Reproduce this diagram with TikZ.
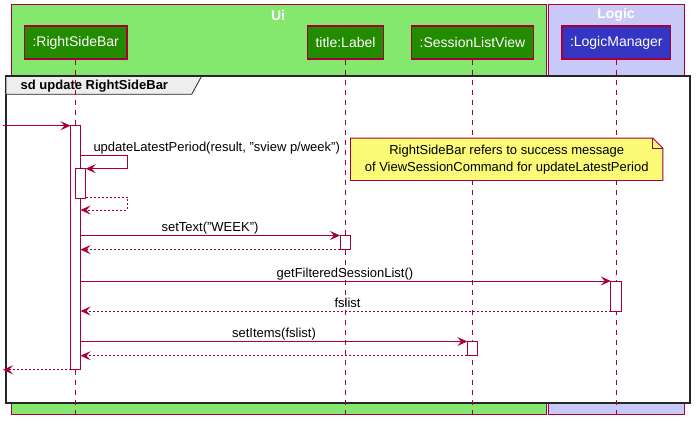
\documentclass[tikz,border=0pt]{standalone}
\usepackage{fontspec}
\setmainfont{Liberation Sans}
\usetikzlibrary{arrows.meta}
\definecolor{crim}{HTML}{A80036}
\definecolor{uibg}{HTML}{84E86E}
\definecolor{uipart}{HTML}{228B00}
\definecolor{logicbg}{HTML}{C9C9F8}
\definecolor{logicpart}{HTML}{3535C4}
\definecolor{notebg}{HTML}{FBFB77}
\definecolor{tabbg}{HTML}{EEEEEE}
\begin{document}
\begin{tikzpicture}[x=1pt,y=-1pt,
  grp/.style={draw=crim, line width=0.9pt},
  grptitle/.style={text=white, font=\fontsize{14}{16}\selectfont\bfseries, inner sep=0},
  part/.style={draw=crim, line width=1.3pt, text=white, font=\fontsize{14}{16}\selectfont, inner xsep=8pt, inner ysep=0pt, minimum height=33pt},
  life/.style={draw=crim, line width=0.9pt, dash pattern=on 5pt off 5pt},
  act/.style={draw=crim, fill=white, line width=0.9pt},
  call/.style={draw=crim, line width=0.9pt, -{Stealth[length=10pt,width=9pt,inset=4pt]}},
  ret/.style={draw=crim, line width=0.9pt, dash pattern=on 2pt off 2pt, -{Stealth[length=10pt,width=9pt,inset=4pt]}},
  msg/.style={font=\fontsize{13}{15}\selectfont, inner sep=0, anchor=base},
]
\useasboundingbox (0,0) rectangle (700,429);
\fill[white] (0,0) rectangle (700,429);

% group boxes
\draw[grp, fill=uibg] (11,4) rectangle (546,414);
\draw[grp, fill=logicbg] (548,4) rectangle (684,414);
\node[grptitle] (uit) at (278,15) {Ui};
\node[grptitle] (lgt) at (616,15) {Logic};

% participants
\node[part, fill=uipart] (rsb) at (75.7,42.5) {:RightSideBar};
\node[part, fill=uipart] (lbl) at (345.5,42.5) {title:Label};
\node[part, fill=uipart] (slv) at (472.5,42.5) {:SessionListView};
\node[part, fill=logicpart] (lm) at (616.3,42.5) {:LogicManager};

% frame
\draw[line width=2pt, draw=black!85, fill=white] (6,76) rectangle (690,403);
\draw[line width=0.8pt, draw=black!85, fill=tabbg] (6,76) -- (201.7,76) -- (191.7,94.3) -- (6,94.3) -- cycle;
\draw[line width=2pt, draw=black!85] (6,76) -- (690,76);
\node[font=\fontsize{13}{15}\selectfont\bfseries, inner sep=0, anchor=west] (sdt) at (20.5,86) {sd update RightSideBar};

% lifelines
\coordinate (rsbe) at (75.7,415);
\coordinate (lble) at (345.5,415);
\coordinate (slve) at (472.5,415);
\coordinate (lme) at (616.3,415);
\draw[life] (rsb.south) -- (rsbe);
\draw[life] (lbl.south) -- (lble);
\draw[life] (slv.south) -- (slve);
\draw[life] (lm.south) -- (lme);

% activations
\draw[act] (70.5,125.7) rectangle (80.5,369.8);
\coordinate (a0w) at (70.5,125.7);
\draw[act] (75.5,168.7) rectangle (85.7,198);
\draw[act] (340,235.5) rectangle (350.3,249.6);
\draw[act] (610.8,281) rectangle (621.1,311);
\draw[act] (467.3,341.5) rectangle (477.6,355.7);

% incoming
\coordinate (inL) at (3,125.7);
\draw[call] (inL) -- (a0w);

% self call
\coordinate (s1) at (80.5,155.3);
\coordinate (s2) at (85.7,168.7);
\draw[call] (s1) -- (127.7,155.3) -- (127.7,168.7) -- (s2);
\node[msg, anchor=base west] (m1) at (93.3,151.5) {updateLatestPeriod(result, "sview p/week")};
\coordinate (r1) at (85.7,197.3);
\coordinate (r2) at (80.5,210);
\draw[ret] (r1) -- (127.7,197.3) -- (127.7,210) -- (r2);

% note
\node[inner sep=0, minimum width=312pt, minimum height=42pt] (note) at (506.7,159.3) {};
\draw[draw=crim, line width=0.9pt, fill=notebg] (note.north west) -- ([xshift=-10pt]note.north east) -- ([yshift=-10pt]note.north east) -- (note.south east) -- (note.south west) -- cycle;
\draw[draw=crim, line width=0.9pt] ([xshift=-10pt]note.north east) -- ([xshift=-10pt,yshift=-10pt]note.north east) -- ([yshift=-10pt]note.north east);
\node[font=\fontsize{13}{17}\selectfont, align=center, inner sep=0] (notet) at (note.center) {RightSideBar refers to success message\\of ViewSessionCommand for updateLatestPeriod};

% setText
\coordinate (c1a) at (80.5,235.5);
\coordinate (c1b) at (340,235.5);
\draw[call] (c1a) -- (c1b);
\node[msg] (m2) at (210,231.8) {setText("WEEK")};
\coordinate (r3a) at (340,249.6);
\coordinate (r3b) at (80.5,249.6);
\draw[ret] (r3a) -- (r3b);

% getFilteredSessionList
\coordinate (c2a) at (80.5,281);
\coordinate (c2b) at (610.8,281);
\draw[call] (c2a) -- (c2b);
\node[msg] (m3) at (345,277) {getFilteredSessionList()};
\coordinate (r4a) at (610.8,311);
\coordinate (r4b) at (80.5,311);
\draw[ret] (r4a) -- (r4b);
\node[msg] (m4) at (347.5,307) {fslist};

% setItems
\coordinate (c3a) at (80.5,341.5);
\coordinate (c3b) at (467.3,341.5);
\draw[call] (c3a) -- (c3b);
\node[msg] (m5) at (274,337.5) {setItems(fslist)};
\coordinate (r5a) at (467.3,355.7);
\coordinate (r5b) at (80.5,355.7);
\draw[ret] (r5a) -- (r5b);

% final return
\coordinate (r6a) at (70.5,369.8);
\coordinate (r6b) at (3,369.8);
\draw[ret] (r6a) -- (r6b);
\end{tikzpicture}
\end{document}
